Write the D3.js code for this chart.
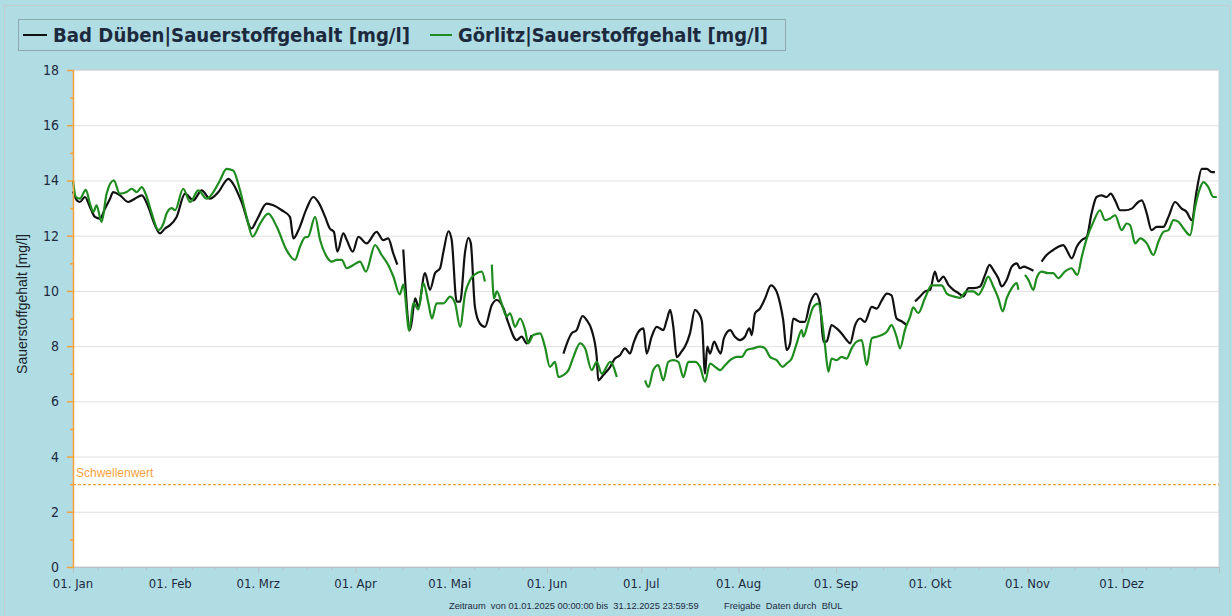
<!DOCTYPE html>
<html>
<head>
<meta charset="utf-8">
<script src="https://cdn.jsdelivr.net/npm/d3@7"></script>
<style>
	body { margin:0; background:#b0dde4; }
	svg { display:block; }
</style>
</head>
<body>
<div id="chart"></div>
<script>

// legend / series names
const seriesNames=["Bad Düben|Sauerstoffgehalt [mg/l]","Görlitz|Sauerstoffgehalt [mg/l]"];
const monthLabels=["Jan","Feb","Mrz","Apr","Mai","Jun","Jul","Aug","Sep","Okt","Nov","Dez"];
const yTicks=[0,2,4,6,8,10,12,14,16,18];
const threshold=3;

// [day of year 2025, mg/l], null = gap in the record
const badDueben=[
	[0,13.6],[1.2,13.28],[2.2,13.22],[3.8,13.4],[5.4,13.04],[7,12.68],[8.6,12.62],[10.2,12.98],[11.8,13.34],[12.8,13.58],
	[15,13.46],[17.6,13.22],[19.7,13.34],[21.9,13.46],[24,13.04],[26.1,12.38],[27.7,12.08],[29.3,12.26],[30.9,12.38],[33,12.68],
	[35.7,13.52],[38.3,13.28],[41,13.64],[43.6,13.34],[46.3,13.58],[49.5,14.06],[51,13.88],[53.7,13.22],[56.9,12.26],[58.5,12.56],
	[61.7,13.16],[63.8,13.1],[66.5,12.92],[69.1,12.68],[70.2,11.9],[71.8,12.2],[74.4,12.98],[76.5,13.4],[78.1,13.22],[80.3,12.68],
	[81.8,12.26],[83.1,12.14],[84.2,11.42],[86.1,12.08],[87.2,11.84],[89.1,11.42],[90.9,11.96],[93.5,11.72],[96.7,12.14],[98.8,11.84],
	[100.4,11.9],[102,11.36],[103.3,10.95],[104.2,null],
	[105.2,11.5],[107.4,8.6],[109,9.73],[110,9.43],[112.1,10.64],[113.7,10.04],[115.3,10.64],[116.9,10.82],[118,11.43],[119.6,12.16],
	[120.6,11.85],[122.2,9.61],[123.3,9.61],[124.9,11.43],[125.9,11.92],[126.7,11.73],[128,9.43],[129.6,8.82],[131.2,8.7],[133.4,9.49],
	[135,9.67],[137.1,9.37],[138.7,8.82],[141.3,8.22],[142.9,8.34],[144.5,8.1],[146.1,8.4],[150,null],
	[156.2,7.73],[158.8,8.46],[160.4,8.58],[162.3,9.09],[163.6,8.94],[165.2,8.58],[166.8,7.61],[167.3,6.76],[168.9,6.95],[171.1,7.25],
	[172.6,7.55],[174.2,7.67],[175.8,7.92],[177.4,7.73],[178.5,8.1],[180.1,8.52],[181.7,8.64],[182.7,7.73],[184.3,8.34],[185.9,8.7],
	[188,8.58],[189.1,8.94],[190.2,9.31],[191.2,8.7],[192.3,7.6],[193.8,7.8],[195,8.0],[196.5,8.46],[198.1,9.31],[199.2,9.2],
	[200.3,8.9],[201.3,7.0],[202,7.98],[202.9,7.73],[204.2,8.16],[205.5,7.86],[206.3,7.73],[207.3,8.28],[209.3,8.58],[210.8,8.34],
	[212.4,8.22],[214,8.34],[215.4,8.64],[216.2,8.4],[217.2,9.18],[218.8,9.36],[220.4,9.72],[222.3,10.2],[223.9,10.02],[225.2,9.54],
	[226.2,8.94],[227.3,7.86],[228.4,8.1],[229.4,9.0],[230.5,8.94],[231.5,8.88],[233.1,8.88],[234.7,9.54],[236.6,9.9],[237.9,9.54],
	[239,8.16],[240,8.16],[241.6,8.76],[243.2,8.64],[244.8,8.46],[246.4,8.22],[247.5,8.1],[249.1,8.76],[250.7,9.0],[252.2,8.88],
	[254.4,9.42],[256,9.36],[257.6,9.66],[259.2,9.9],[260.7,9.84],[262.3,9.0],[263.9,8.9],[265.5,8.76],[266.8,null],
	[268.2,9.62],[269.8,9.8],[271.4,9.98],[273,10.04],[274.5,10.7],[275.6,10.34],[277.2,10.52],[278.8,10.22],[280.4,10.04],[282,9.92],
	[283.6,9.8],[285.2,10.1],[286.8,10.1],[288.9,10.16],[290.5,10.58],[291.9,10.94],[293.1,10.76],[294.7,10.46],[295.8,10.16],[297.4,10.4],
	[299,10.88],[300.6,11.0],[301.6,10.82],[302.9,10.88],[304.3,10.82],[305.9,10.73],[307.2,null],
	[308.5,11.06],[310.1,11.3],[312.2,11.48],[313.8,11.6],[315.4,11.66],[316.5,11.48],[318.1,11.18],[319.7,11.6],[321.3,11.84],[322.9,11.96],
	[324.4,12.8],[326,13.4],[327.6,13.46],[329.2,13.4],[330.5,13.52],[331.9,13.28],[333.5,12.92],[335.1,12.92],[337.2,12.98],[339.3,13.22],
	[340.4,13.28],[342,12.8],[343.5,12.2],[345.2,12.32],[347.3,12.32],[348.9,12.68],[351,13.22],[353.1,12.98],[354.7,12.86],[356.3,12.56],
	[357.9,13.64],[359.5,14.42],[361.1,14.42],[362.7,14.3],[363.7,14.3]
];

const goerlitz=[
	[0,14.0],[0.9,13.4],[2.2,13.34],[4.1,13.66],[5.4,13.16],[6.5,12.86],[7.5,13.1],[9.1,12.5],[10.7,13.52],[13,14.0],
	[14.9,13.52],[17.1,13.58],[18.7,13.7],[20.3,13.58],[21.9,13.76],[23.5,13.4],[25.1,12.8],[27.2,12.2],[28.8,12.44],[29.8,12.8],
	[31.4,13.0],[32.5,12.92],[35.1,13.7],[37.3,13.22],[39.9,13.64],[42.6,13.34],[44.7,13.58],[46.8,14.0],[48.9,14.42],[51,14.36],
	[53.2,13.64],[55.3,12.68],[57.2,11.96],[59.6,12.44],[62.2,12.8],[64.9,12.32],[68,11.48],[70.7,11.12],[72.3,11.6],[73.9,11.94],
	[74.9,11.96],[77.1,12.68],[78.7,11.84],[80.8,11.24],[82.4,11.06],[84,11.12],[85.6,11.12],[87.2,10.82],[89.3,10.94],[91.4,11.06],
	[93.3,10.7],[96.2,11.66],[98.3,11.3],[100.4,10.94],[102,10.53],[104.1,9.87],[105.2,10.23],[107.1,8.55],[108.4,9.57],[110,9.33],
	[111.6,10.28],[113.2,9.55],[114.3,9.0],[115.8,9.55],[118,9.55],[120.1,9.79],[121.7,9.55],[123.3,8.7],[124.9,9.91],[126.5,10.4],
	[128.6,10.64],[130.2,10.7],[131.2,10.34],[132.3,null],
	[133.4,10.95],[134.1,9.73],[135,9.98],[136.5,9.55],[138.1,9.07],[139.2,9.19],[140.8,8.7],[142.4,9.0],[144,8.58],[145,8.1],
	[146.6,8.4],[148.8,8.46],[150.3,7.98],[151.9,7.25],[153.5,7.43],[154.6,6.88],[156.2,6.95],[157.8,7.13],[159.4,7.61],[161.5,8.1],
	[163.1,7.92],[165.2,7.13],[166.8,7.43],[168.4,7.0],[171.1,7.43],[173.2,6.88],[177,null],
	[182.2,6.76],[183.3,6.52],[184.8,7.13],[186.4,7.31],[188,6.76],[189.6,7.43],[191.2,7.49],[192.8,7.43],[194.4,6.88],[196,7.43],
	[198.1,7.43],[199.7,7.25],[201.3,6.71],[202.9,7.37],[204.5,7.25],[206.1,7.13],[207.7,7.31],[209.3,7.49],[211.4,7.61],[213,7.61],
	[214.6,7.86],[216.7,7.92],[218.8,7.98],[220.4,7.92],[222,7.61],[224.1,7.49],[226,7.25],[227.3,7.37],[228.9,7.55],[230.5,8.1],
	[232.1,8.58],[232.6,8.34],[234.2,8.88],[235.8,9.42],[237.4,9.54],[238.4,9.06],[239.5,8.04],[240.6,7.07],[241.6,7.55],[243.2,7.49],
	[244.8,7.61],[246.4,7.55],[248,7.92],[249.6,8.16],[251.2,8.22],[252.8,7.31],[254.4,8.28],[256,8.34],[257.6,8.4],[259.2,8.52],
	[260.7,8.76],[262.3,8.34],[263.4,7.92],[265,8.6],[266.6,9.06],[267.6,9.4],[269.2,9.2],[271.4,9.75],[273.5,10.2],[275.1,10.2],
	[276.7,10.2],[278.3,9.9],[280.4,9.8],[282.5,9.75],[284.6,9.98],[286.8,9.98],[288.4,9.86],[290,10.16],[291.5,10.52],[293.1,10.16],
	[294.7,9.74],[296.1,9.26],[297.4,9.74],[299,10.1],[300.6,10.28],[301.1,10.04],[302.2,null],
	[303.2,10.58],[304.3,10.4],[305.9,10.04],[306.9,10.46],[308.5,10.7],[310.6,10.64],[312.2,10.64],[313.8,10.46],[315.9,10.7],[318,10.82],
	[319.9,10.58],[321.3,11.24],[322.9,11.9],[325,12.5],[327.1,12.92],[328.7,12.56],[330.3,12.62],[331.9,12.74],[334,12.2],[335.6,12.44],
	[336.7,12.38],[338.3,11.72],[339.9,11.9],[342,11.72],[344.1,11.3],[345.7,11.78],[347.3,12.14],[348.9,12.2],[350.5,12.56],[352.1,12.5],
	[353.7,12.26],[355.8,12.02],[357.4,13.04],[358.9,13.7],[360,13.94],[361.6,13.76],[363.2,13.4],[364.3,13.4]
];

const W=1232, H=616;
const plot={left:73, right:1219, top:70, bottom:567};
const axisOrange="#f4a23c", textDark="#1d2a3e";

const t0=Date.UTC(2025,0,1), t1=Date.UTC(2026,0,1);
const dayToDate=d=>new Date(t0+d*864e5);

const x=d3.scaleUtc().domain([new Date(t0),new Date(t1)]).range([plot.left,plot.right]);
const y=d3.scaleLinear().domain([0,18]).range([plot.bottom,plot.top]);

const svg=d3.select("#chart").append("svg")
		.attr("width",W)
		.attr("height",H);

// background + outer frame
svg.append("rect")
		.attr("width",W).attr("height",H)
		.attr("fill","#b0dde4");
svg.append("rect")
		.attr("x",4.5).attr("y",5.5)
		.attr("width",W-7).attr("height",H)
		.attr("fill","none")
		.attr("stroke","#c3cdd1");

// squeeze a text element to a target width
function fit(sel,width) {
	let len=sel.node().getComputedTextLength();
	if(Math.abs(len-width)>1) sel.attr("textLength",width).attr("lengthAdjust","spacingAndGlyphs");
}

// legend
svg.append("rect")
		.attr("x",18.5).attr("y",19.5)
		.attr("width",767).attr("height",31)
		.attr("fill","none")
		.attr("stroke","#8fa6ad");

const legendItems=[
	{name:seriesNames[0], color:"#111111", x1:23, x2:47, tx:53, tw:357},
	{name:seriesNames[1], color:"#1e8c1e", x1:430, x2:452, tx:458, tw:310}
];
legendItems.forEach(it=>{
	svg.append("line")
			.attr("x1",it.x1).attr("x2",it.x2)
			.attr("y1",35).attr("y2",35)
			.attr("stroke",it.color)
			.attr("stroke-width",2);
	let t=svg.append("text")
			.attr("x",it.tx).attr("y",42)
			.attr("fill",textDark)
			.style("font-family","'DejaVu Sans Condensed','DejaVu Sans',sans-serif")
			.style("font-weight","bold")
			.style("font-size","20px")
			.text(it.name);
	fit(t,it.tw);
});

// plot area
svg.append("rect")
		.attr("x",plot.left).attr("y",plot.top)
		.attr("width",plot.right-plot.left).attr("height",plot.bottom-plot.top)
		.attr("fill","#ffffff")
		.attr("stroke","#c9cdd0");

// grid
svg.append("g")
		.selectAll("line")
		.data(yTicks.filter(v=>v>0))
		.join("line")
		.attr("x1",plot.left).attr("x2",plot.right)
		.attr("y1",d=>y(d)+0.5).attr("y2",d=>y(d)+0.5)
		.attr("stroke","#e0e0e0");

// threshold
svg.append("line")
		.attr("x1",plot.left).attr("x2",plot.right)
		.attr("y1",y(threshold)+0.5).attr("y2",y(threshold)+0.5)
		.attr("stroke",axisOrange)
		.attr("stroke-width",1.2)
		.attr("stroke-dasharray","3,2");
svg.append("text")
		.attr("x",76).attr("y",y(threshold)-7)
		.attr("fill",axisOrange)
		.style("font-family","'Liberation Sans',Arial,sans-serif")
		.style("font-size","12px")
		.text("Schwellenwert");

// series
const line=d3.line()
		.defined(d=>d[1]!=null)
		.x(d=>x(dayToDate(d[0])))
		.y(d=>y(d[1]))
		.curve(d3.curveMonotoneX);

svg.append("path")
		.datum(badDueben)
		.attr("d",line)
		.attr("fill","none")
		.attr("stroke","#111111")
		.attr("stroke-width",2.2)
		.attr("stroke-linejoin","round");

svg.append("path")
		.datum(goerlitz)
		.attr("d",line)
		.attr("fill","none")
		.attr("stroke","#1e8c1e")
		.attr("stroke-width",2.2)
		.attr("stroke-linejoin","round");

// x axis
const months=d3.utcMonth.range(new Date(t0),new Date(t1));
let minor=[];
months.forEach(m=>{
	let next=d3.utcMonth.offset(m,1);
	for(let k=1;k<4;k++) minor.push(new Date(+m+(next-m)*k/4));
});

svg.append("line")
		.attr("x1",plot.left).attr("x2",plot.right)
		.attr("y1",plot.bottom+0.5).attr("y2",plot.bottom+0.5)
		.attr("stroke","#b9c0c4");

svg.append("g")
		.selectAll("line")
		.data(months.concat([new Date(t1)]))
		.join("line")
		.attr("x1",d=>x(d)+0.5).attr("x2",d=>x(d)+0.5)
		.attr("y1",plot.bottom).attr("y2",plot.bottom+6)
		.attr("stroke","#b9c0c4");

svg.append("g")
		.selectAll("line")
		.data(minor)
		.join("line")
		.attr("x1",d=>x(d)+0.5).attr("x2",d=>x(d)+0.5)
		.attr("y1",plot.bottom).attr("y2",plot.bottom+3)
		.attr("stroke","#b9c0c4");

svg.append("g")
		.selectAll("text")
		.data(months)
		.join("text")
		.attr("x",d=>x(d))
		.attr("y",plot.bottom+21)
		.attr("text-anchor","middle")
		.attr("fill",textDark)
		.style("font-family","'DejaVu Sans Condensed','DejaVu Sans',sans-serif")
		.style("font-size","13px")
		.text(d=>"01. "+monthLabels[d.getUTCMonth()]);

// y axis
svg.append("line")
		.attr("x1",plot.left+0.5).attr("x2",plot.left+0.5)
		.attr("y1",plot.top).attr("y2",plot.bottom+1)
		.attr("stroke",axisOrange)
		.attr("stroke-width",1.5);

svg.append("g")
		.selectAll("line")
		.data(d3.range(0,19))
		.join("line")
		.attr("x1",d=>d%2==0 ? plot.left-6 : plot.left-3).attr("x2",plot.left)
		.attr("y1",d=>y(d)+0.5).attr("y2",d=>y(d)+0.5)
		.attr("stroke",axisOrange)
		.attr("stroke-width",1.5);

svg.append("g")
		.selectAll("text")
		.data(yTicks)
		.join("text")
		.attr("x",plot.left-14)
		.attr("y",d=>y(d)+5)
		.attr("text-anchor","end")
		.attr("fill",textDark)
		.style("font-family","'DejaVu Sans Condensed','DejaVu Sans',sans-serif")
		.style("font-size","14px")
		.text(d=>d);

svg.append("text")
		.attr("transform","translate(27,304) rotate(-90)")
		.attr("x",0).attr("y",0)
		.attr("text-anchor","middle")
		.attr("fill","#1a1f2a")
		.style("font-family","'Liberation Sans',Arial,sans-serif")
		.style("font-size","14px")
		.text("Sauerstoffgehalt [mg/l]");

// footer
svg.append("text")
		.attr("x",449).attr("y",609)
		.attr("fill",textDark)
		.style("font-family","'Liberation Sans',Arial,sans-serif")
		.style("font-size","9.3px")
		.attr("xml:space","preserve")
		.text("Zeitraum  von 01.01.2025 00:00:00 bis  31.12.2025 23:59:59");
svg.append("text")
		.attr("x",724).attr("y",609)
		.attr("fill",textDark)
		.style("font-family","'Liberation Sans',Arial,sans-serif")
		.style("font-size","9.3px")
		.attr("xml:space","preserve")
		.text("Freigabe  Daten durch  BfUL");

</script>
</body>
</html>
